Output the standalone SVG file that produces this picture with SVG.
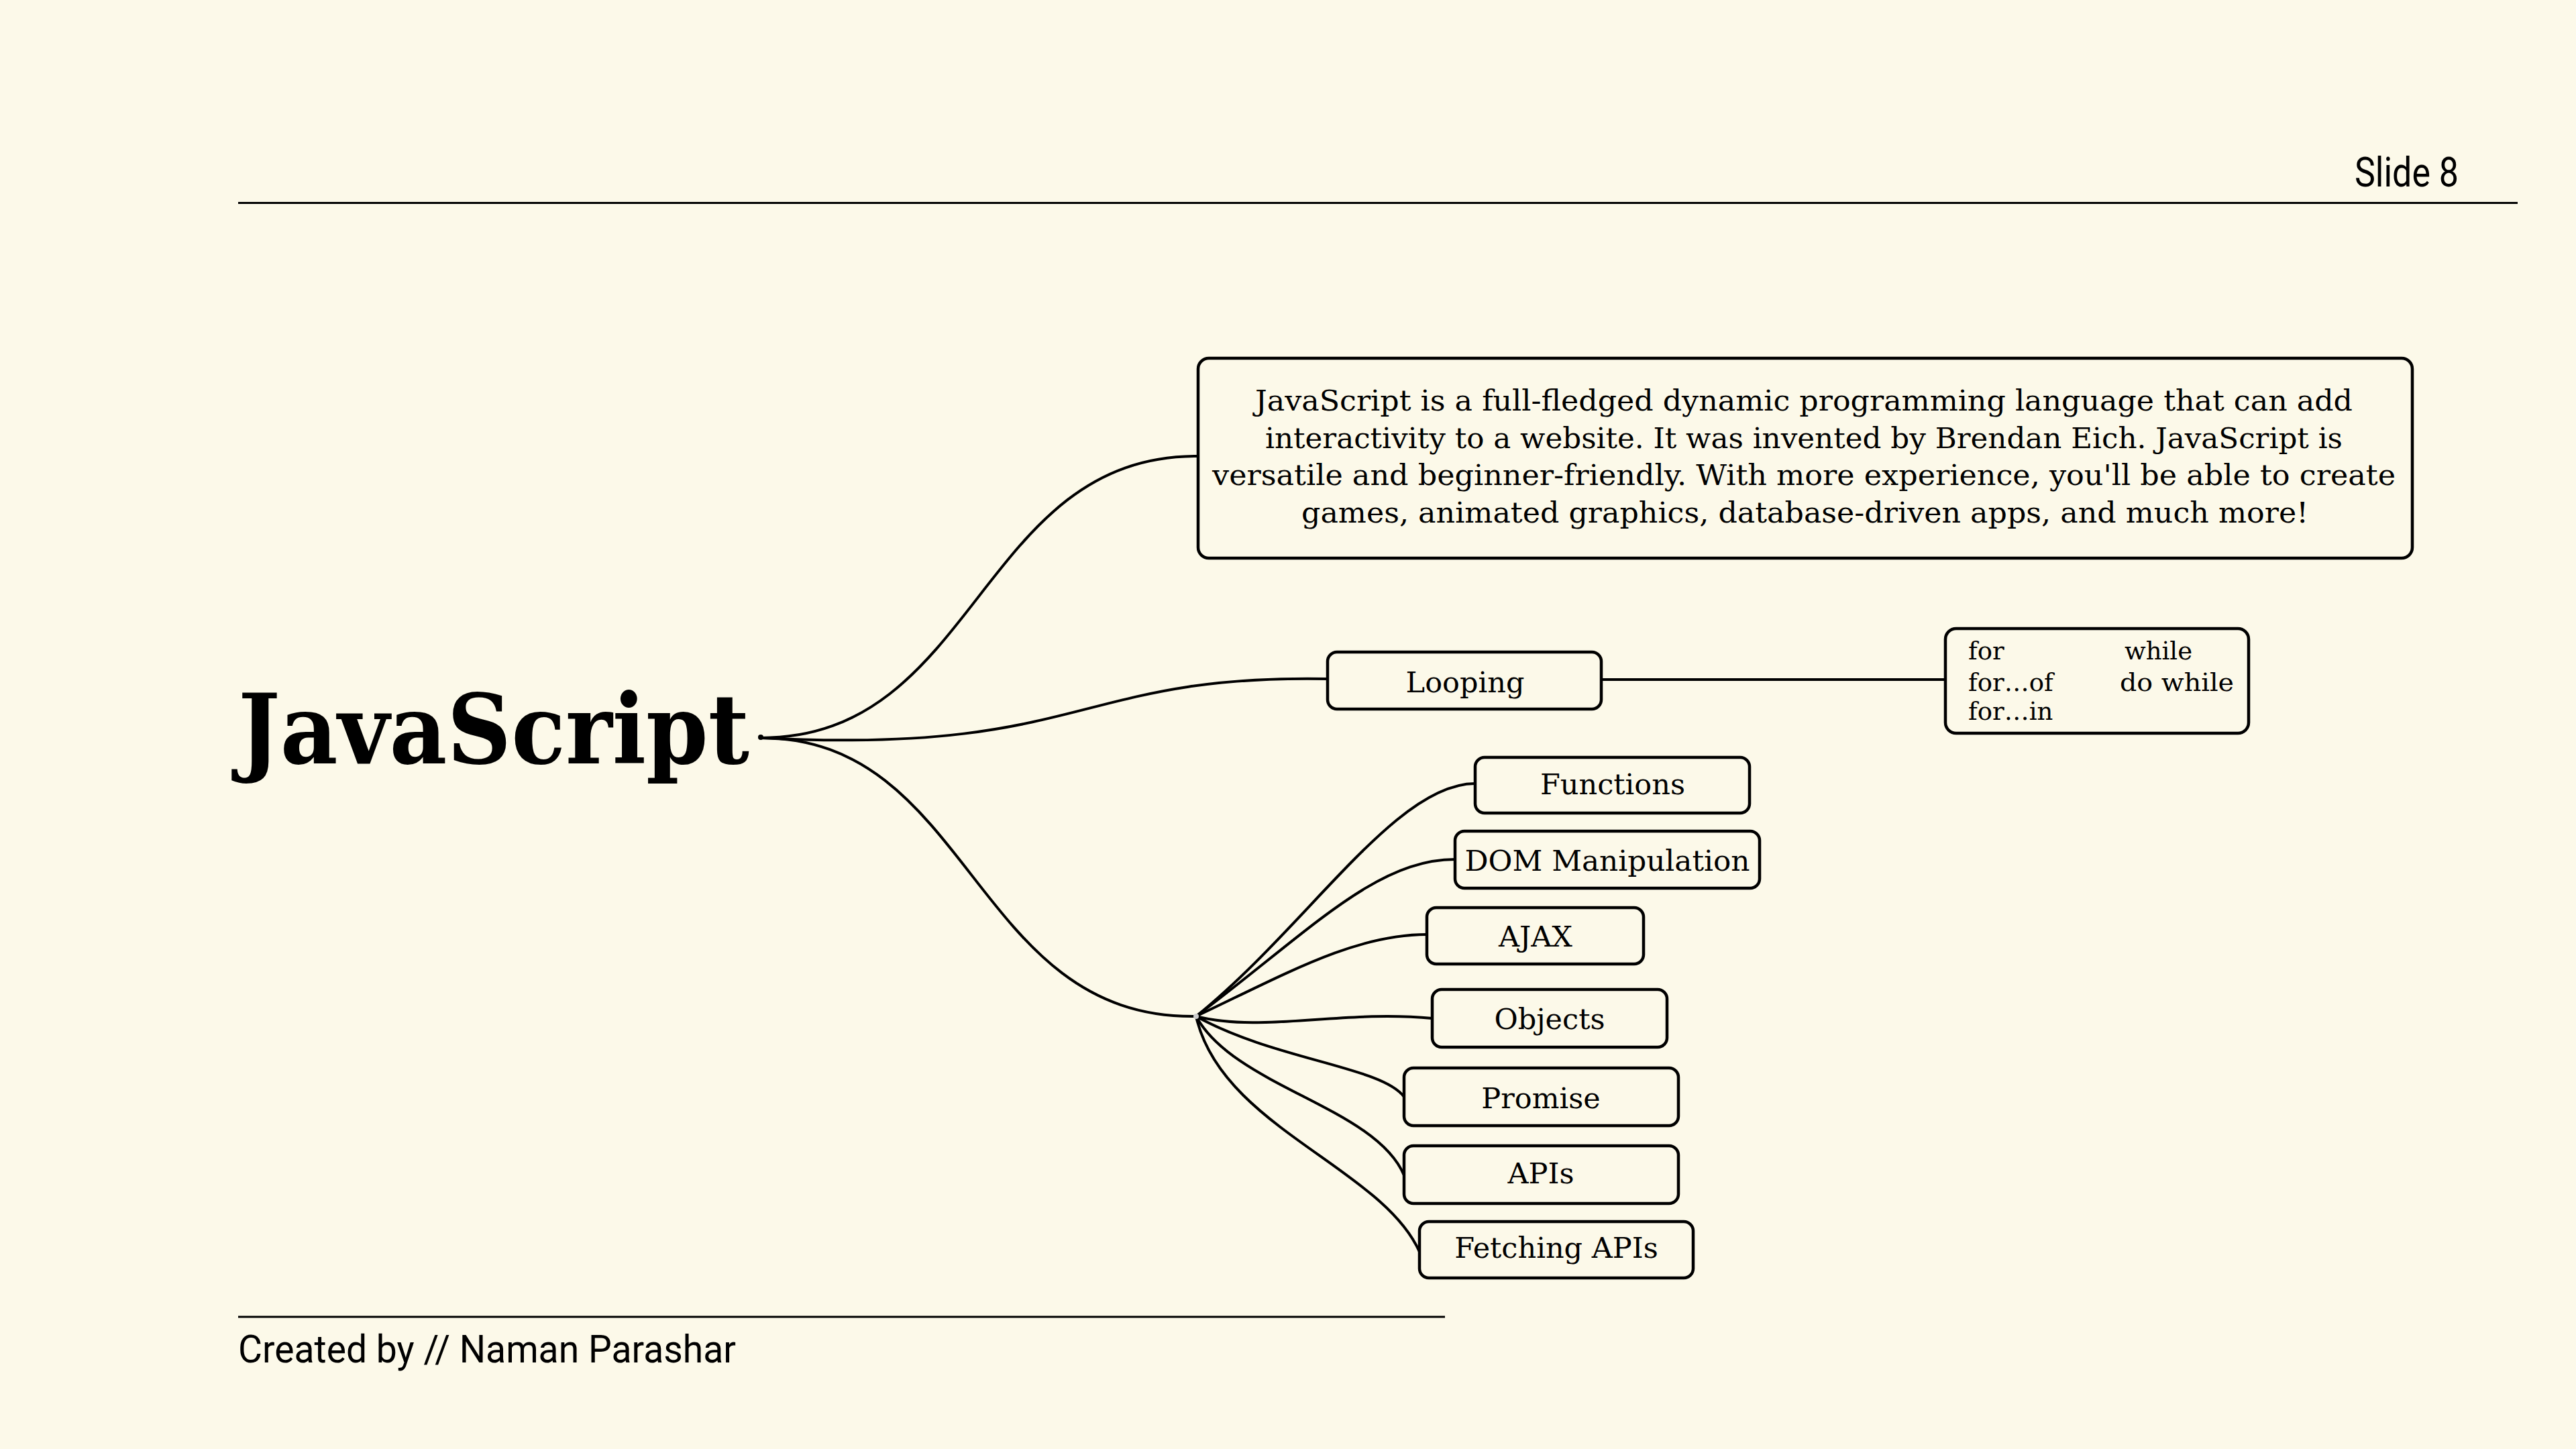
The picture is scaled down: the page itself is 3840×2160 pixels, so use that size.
<svg xmlns="http://www.w3.org/2000/svg" width="3840" height="2160" viewBox="0 0 3840 2160">
<style>
.bg{fill:#FCF9E9}
.rule{stroke:#000;stroke-width:3;fill:none}
.box{fill:none;stroke:#000;stroke-width:4.5}
.con{fill:none;stroke:#000;stroke-width:4;stroke-linecap:round}
.serif{font-family:"DejaVu Serif","Liberation Serif",serif;fill:#000}
.node{font-size:43px;text-anchor:middle}
.desc{font-size:42px}
.loop{font-size:37px}
.sans{font-family:Roboto,"Liberation Sans",sans-serif;fill:#000}
</style>
<rect class="bg" x="0" y="0" width="3840" height="2160"/>
<g id="header">
<line class="rule" x1="355" y1="302.5" x2="3753" y2="302.5"/>
<text class="sans" x="3510" y="278" font-size="62" textLength="155" lengthAdjust="spacingAndGlyphs">Slide 8</text>
</g>
<g id="footer">
<line class="rule" x1="355" y1="1963" x2="2154" y2="1963"/>
<text class="sans" x="355" y="2031" font-size="58" textLength="742" lengthAdjust="spacingAndGlyphs">Created by // Naman Parashar</text>
</g>
<g id="connectors">
<path class="con" d="M1134,1100 C1458,1100 1459,678 1786,680"/>
<path class="con" d="M1134,1100 C1620,1125 1600,1005 1979,1012"/>
<path class="con" d="M1134,1100 C1450,1100 1450,1520 1783,1515"/>
<path class="con" d="M2388,1013 L2900,1013"/>
<path class="con" d="M1783,1515 C1950,1380 2080,1168 2199,1168"/>
<path class="con" d="M1783,1515 C1950,1390 2050,1281 2169,1281"/>
<path class="con" d="M1783,1515 C1920,1450 2020,1393 2127,1393"/>
<path class="con" d="M1783,1515 C1880,1540 2000,1505 2135,1518"/>
<path class="con" d="M1783,1515 C1900,1580 2060,1590 2093,1635"/>
<path class="con" d="M1783,1515 C1840,1620 2050,1650 2093,1752"/>
<path class="con" d="M1783,1515 C1820,1680 2060,1740 2116,1866"/>
<circle cx="1134" cy="1099" r="4" fill="#000"/>
<circle cx="1783" cy="1515" r="4" fill="#ccc"/>
</g>
<g id="root">
<text class="serif" x="355" y="1138" font-size="145" font-weight="bold" textLength="762" lengthAdjust="spacingAndGlyphs">JavaScript</text>
</g>
<g id="description">
<rect class="box" x="1786" y="534" width="1810" height="298" rx="16"/>
<text class="serif desc" x="1871" y="612" textLength="1636" lengthAdjust="spacingAndGlyphs">JavaScript is a full-fledged dynamic programming language that can add</text>
<text class="serif desc" x="1886" y="668" textLength="1606" lengthAdjust="spacingAndGlyphs">interactivity to a website. It was invented by Brendan Eich. JavaScript is</text>
<text class="serif desc" x="1807" y="723" textLength="1764" lengthAdjust="spacingAndGlyphs">versatile and beginner-friendly. With more experience, you'll be able to create</text>
<text class="serif desc" x="1940" y="779" textLength="1501" lengthAdjust="spacingAndGlyphs">games, animated graphics, database-driven apps, and much more!</text>
</g>
<g id="looping">
<rect class="box" x="1979" y="972" width="408" height="85" rx="14"/>
<text class="serif node" x="2184" y="1032">Looping</text>
</g>
<g id="loop-types">
<rect class="box" x="2900" y="937" width="452" height="156" rx="16"/>
<text class="serif loop" x="2934" y="983">for</text>
<text class="serif loop" x="2934" y="1030">for…of</text>
<text class="serif loop" x="2934" y="1073">for…in</text>
<text class="serif loop" x="3167" y="983">while</text>
<text class="serif loop" x="3160" y="1030" textLength="170" lengthAdjust="spacingAndGlyphs">do while</text>
</g>
<g id="functions">
<rect class="box" x="2199" y="1129" width="409" height="83" rx="14"/>
<text class="serif node" x="2404" y="1184">Functions</text>
</g>
<g id="dom">
<rect class="box" x="2169" y="1239" width="454" height="85" rx="14"/>
<text class="serif node" x="2396" y="1298" textLength="425" lengthAdjust="spacingAndGlyphs">DOM Manipulation</text>
</g>
<g id="ajax">
<rect class="box" x="2127" y="1353" width="323" height="84" rx="14"/>
<text class="serif node" x="2289" y="1411">AJAX</text>
</g>
<g id="objects">
<rect class="box" x="2135" y="1475" width="350" height="86" rx="14"/>
<text class="serif node" x="2310" y="1534">Objects</text>
</g>
<g id="promise">
<rect class="box" x="2093" y="1592" width="409" height="86" rx="14"/>
<text class="serif node" x="2297" y="1652">Promise</text>
</g>
<g id="apis">
<rect class="box" x="2093" y="1708" width="409" height="86" rx="14"/>
<text class="serif node" x="2297" y="1764">APIs</text>
</g>
<g id="fetching">
<rect class="box" x="2116" y="1821" width="408" height="84" rx="14"/>
<text class="serif node" x="2320" y="1875">Fetching APIs</text>
</g>
</svg>
